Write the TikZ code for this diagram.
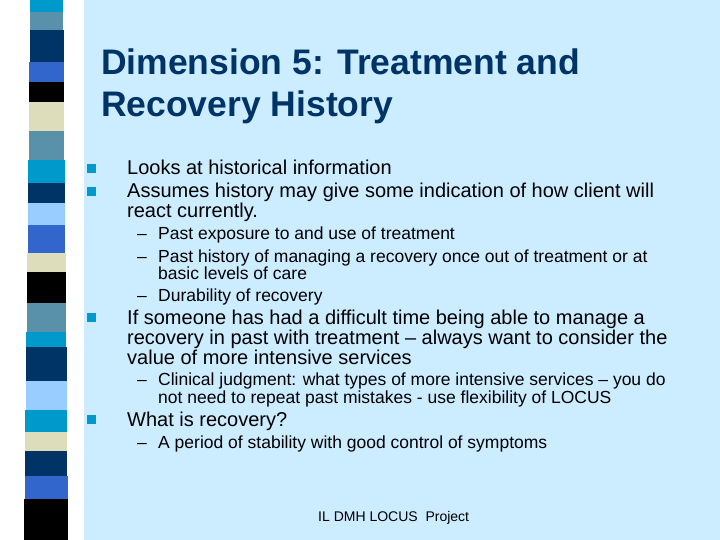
\documentclass[tikz,border=0pt]{standalone}
\usepackage{fontspec}
\setmainfont{Liberation Sans}
\begin{document}
\begin{tikzpicture}[x=1pt,y=-1pt,
  t/.style={anchor=base west,inner sep=0pt,text=black},
  ttl/.style={t,font=\fontsize{35.5}{32}\selectfont\bfseries,text={rgb,255:red,0;green,51;blue,102}},
  l1/.style={t,font=\fontsize{20}{20}\selectfont},
  l2/.style={t,font=\fontsize{17.5}{16}\selectfont},
  bl/.style={fill={rgb,255:red,0;green,153;blue,204},minimum size=8.5pt,inner sep=0pt,anchor=south west}]
\useasboundingbox (0,0) rectangle (720,540);
\fill[white] (0,0) rectangle (720,540);
\fill[fill={rgb,255:red,204;green,236;blue,255}] (84,0) rectangle (720,540);
\definecolor{cc}{RGB}{0,153,204}\definecolor{st}{RGB}{90,145,170}
\definecolor{nv}{RGB}{0,51,102}\definecolor{rb}{RGB}{51,102,204}
\definecolor{bk}{RGB}{0,0,0}\definecolor{cr}{RGB}{221,221,187}
\definecolor{lb}{RGB}{153,204,255}
\foreach \a/\b/\c in {0/12/cc,12/30/st,30/62/nv,62/82/rb,82/102/bk,102/131/cr,131/160/st,160/183/cc,183/203/nv,203/225/lb,225/253/rb,253/272/cr,272/303/bk,303/332/st,332/347/cc,347/381/nv,381/410/lb,410/432/cc,432/451/cr,451/476/nv,476/499/rb,499/540/bk}
  {\fill[\c] ({30-6*\a/540},\a) rectangle ({63+5*\b/540},\b);}
\node[ttl] (t1) at (101,75) {Dimension 5: Treatment and};
\node[ttl] (t2) at (101,117) {Recovery History};
\node[bl] (b1) at (87,173) {};
\node[l1] (a1) at (127,175) {Looks at historical information};
\node[bl] (b2) at (87,196) {};
\node[l1] (a2) at (127,198) {Assumes history may give some indication of how client will};
\node[l1] (a3) at (127,218) {react currently.};
\node[l2] (s1) at (137,240) {–};
\node[l2] (c1) at (158,240) {Past exposure to and use of treatment};
\node[l2] (s2) at (137,262) {–};
\node[l2] (c2) at (158,262) {Past history of managing a recovery once out of treatment or at};
\node[l2] (c3) at (158,279) {basic levels of care};
\node[l2] (s3) at (137,301) {–};
\node[l2] (c4) at (158,301) {Durability of recovery};
\node[bl] (b3) at (87,322) {};
\node[l1] (d1) at (127,324) {If someone has had a difficult time being able to manage a};
\node[l1] (d2) at (127,344) {recovery in past with treatment – always want to consider the};
\node[l1] (d3) at (127,364) {value of more intensive services};
\node[l2] (s4) at (137,385) {–};
\node[l2] (e1) at (158,385) {Clinical judgment: what types of more intensive services – you do};
\node[l2] (e2) at (158,403) {not need to repeat past mistakes - use flexibility of LOCUS};
\node[bl] (b4) at (87,424) {};
\node[l1] (f1) at (127,426) {What is recovery?};
\node[l2] (s5) at (137,448) {–};
\node[l2] (g1) at (158,448) {A period of stability with good control of symptoms};
\node[t,font=\fontsize{14}{14}\selectfont] (ft) at (318,521) {IL DMH LOCUS\ \ Project};
\end{tikzpicture}
\end{document}
